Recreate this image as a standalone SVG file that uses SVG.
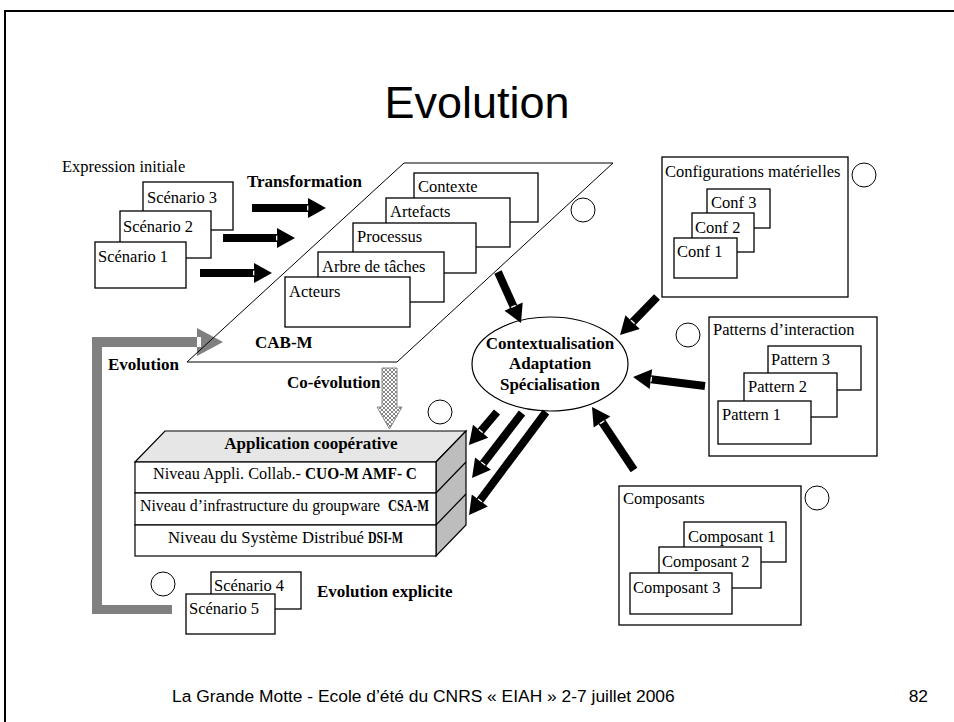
<svg xmlns="http://www.w3.org/2000/svg" width="954" height="722" viewBox="0 0 954 722">
<defs>
<style>
.t{font-family:"Liberation Serif","Times New Roman",serif;font-size:16.5px;fill:#000}
.b{font-family:"Liberation Serif","Times New Roman",serif;font-size:17px;font-weight:bold;fill:#000}
.s{font-family:"Liberation Sans",Arial,sans-serif;fill:#000}
.box{fill:#fff;stroke:#000;stroke-width:1.3}
.frame{fill:none;stroke:#000;stroke-width:1.3}
.c{fill:#fff;stroke:#000;stroke-width:1}
.arr{stroke:#000;stroke-width:8;fill:none;marker-end:url(#head)}
</style>
<marker id="head" markerUnits="strokeWidth" markerWidth="3" markerHeight="3" refX="0" refY="0" orient="auto" overflow="visible">
<path d="M0,-1.25 L2.25,0 L0,1.25 z" fill="#000"/>
<rect x="-0.12" y="-0.3" width="0.16" height="0.6" fill="#fff"/>
</marker>
<pattern id="hatch" width="4" height="4" patternUnits="userSpaceOnUse">
<rect width="4" height="4" fill="#fff"/>
<path d="M0,0 L4,4 M4,0 L0,4" stroke="#777" stroke-width="0.9"/>
</pattern>
</defs>
<rect x="0" y="0" width="954" height="722" fill="#fff"/>
<rect x="5" y="11" width="1000" height="800" fill="none" stroke="#000" stroke-width="2"/>
<text class="s" x="477" y="118" font-size="45" text-anchor="middle">Evolution</text>
<text class="s" x="172" y="702" font-size="17.4">La Grande Motte - Ecole d’été du CNRS « EIAH » 2-7 juillet 2006</text>
<text class="s" x="928" y="702" font-size="17.4" text-anchor="end">82</text>

<g id="expression">
<text class="t" x="62" y="172">Expression initiale</text>
<rect class="box" x="143" y="182" width="90" height="48"/>
<text class="t" x="147" y="203">Scénario 3</text>
<rect class="box" x="120" y="211" width="91" height="47"/>
<text class="t" x="123" y="232">Scénario 2</text>
<rect class="box" x="95" y="242" width="91" height="46"/>
<text class="t" x="98" y="262">Scénario 1</text>
</g>

<text class="b" x="247" y="187">Transformation</text>
<text class="b" x="108" y="370">Evolution</text>
<text class="b" x="287" y="388">Co-évolution</text>
<text class="b" x="317" y="597">Evolution explicite</text>

<g id="evolution-arrow">
<polygon points="172,614 92,614 92,337 197,337 197,328 223,342 197,356 197,347 102,347 102,605 172,605" fill="#808080"/>
<rect x="197" y="337" width="4" height="10" fill="#fff"/>
</g>

<g id="cab-m">
<polygon points="404,163 613,163 397,362 187,362" fill="none" stroke="#000" stroke-width="1"/>
<rect class="box" x="414" y="173" width="124" height="49"/>
<text class="t" x="418" y="192">Contexte</text>
<rect class="box" x="386" y="198" width="124" height="49"/>
<text class="t" x="390" y="217">Artefacts</text>
<rect class="box" x="353" y="223" width="123" height="50"/>
<text class="t" x="357" y="242">Processus</text>
<rect class="box" x="318" y="252" width="126" height="50"/>
<text class="t" x="322" y="272">Arbre de tâches</text>
<rect class="box" x="285" y="277" width="125" height="50"/>
<text class="t" x="289" y="297">Acteurs</text>
<text class="b" x="255" y="348" font-size="19.5">CAB-M</text>
<circle class="c" cx="583" cy="210" r="12"/>
</g>

<g id="contextualisation">
<ellipse cx="550" cy="364" rx="78" ry="47" fill="#fff" stroke="#000" stroke-width="1.2"/>
<text class="b" x="550" y="349" text-anchor="middle">Contextualisation</text>
<text class="b" x="550" y="369" text-anchor="middle">Adaptation</text>
<text class="b" x="550" y="390" text-anchor="middle">Spécialisation</text>
</g>

<g id="configurations">
<rect class="frame" x="662" y="157" width="186" height="140"/>
<text class="t" x="665" y="177">Configurations matérielles</text>
<circle class="c" cx="864" cy="175" r="12"/>
<rect class="box" x="707" y="189" width="63" height="39"/>
<text class="t" x="711" y="208">Conf 3</text>
<rect class="box" x="692" y="213" width="62" height="39"/>
<text class="t" x="695" y="233">Conf 2</text>
<rect class="box" x="674" y="238" width="63" height="40"/>
<text class="t" x="677" y="257">Conf 1</text>
</g>

<g id="patterns">
<rect class="frame" x="709" y="317" width="168" height="139"/>
<text class="t" x="713" y="335">Patterns d’interaction</text>
<circle class="c" cx="688" cy="335" r="12"/>
<rect class="box" x="768" y="346" width="93" height="44"/>
<text class="t" x="771" y="365">Pattern 3</text>
<rect class="box" x="744" y="373" width="93" height="44"/>
<text class="t" x="748" y="392">Pattern 2</text>
<rect class="box" x="718" y="401" width="93" height="43"/>
<text class="t" x="722" y="420">Pattern 1</text>
</g>

<g id="composants">
<rect class="frame" x="619" y="486" width="182" height="139"/>
<text class="t" x="623" y="504">Composants</text>
<circle class="c" cx="817" cy="498" r="12"/>
<rect class="box" x="684" y="522" width="102" height="40"/>
<text class="t" x="688" y="542">Composant 1</text>
<rect class="box" x="659" y="547" width="102" height="41"/>
<text class="t" x="662" y="567">Composant 2</text>
<rect class="box" x="630" y="573" width="102" height="41"/>
<text class="t" x="633" y="593">Composant 3</text>
</g>

<g id="application">
<polygon points="135,462 165,431 466,431 436,462" fill="#e6e6e6" stroke="#000" stroke-width="1.2"/>
<polygon points="436,462 466,431 466,525 436,556" fill="#bdbdbd" stroke="#000" stroke-width="1.2"/>
<line x1="436" y1="493" x2="466" y2="462" stroke="#000" stroke-width="1.2"/>
<line x1="436" y1="525" x2="466" y2="494" stroke="#000" stroke-width="1.2"/>
<rect x="135" y="462" width="301" height="31" fill="#fff" stroke="#000" stroke-width="1.2"/>
<rect x="135" y="493" width="301" height="32" fill="#fff" stroke="#000" stroke-width="1.2"/>
<rect x="135" y="525" width="301" height="31" fill="#fff" stroke="#000" stroke-width="1.2"/>
<text class="b" x="311" y="449" text-anchor="middle">Application coopérative</text>
<text class="t" x="153" y="479" textLength="148" lengthAdjust="spacingAndGlyphs">Niveau Appli. Collab.-</text>
<text class="b" x="305" y="479" textLength="112" lengthAdjust="spacingAndGlyphs">CUO-M AMF- C</text>
<text class="t" x="140" y="511" textLength="240" lengthAdjust="spacingAndGlyphs">Niveau d’infrastructure du groupware</text>
<text class="b" x="388" y="511" textLength="41" lengthAdjust="spacingAndGlyphs">CSA-M</text>
<text class="t" x="168" y="543" textLength="196" lengthAdjust="spacingAndGlyphs">Niveau du Système Distribué</text>
<text class="b" x="368" y="543" textLength="35" lengthAdjust="spacingAndGlyphs">DSI-M</text>
<circle class="c" cx="440" cy="412" r="12"/>
</g>

<g id="explicite">
<circle class="c" cx="163" cy="584" r="12"/>
<rect class="box" x="211" y="572" width="90" height="37"/>
<text class="t" x="214" y="591">Scénario 4</text>
<rect class="box" x="186" y="594" width="89" height="40"/>
<text class="t" x="189" y="614">Scénario 5</text>
</g>

<g id="connectors">
<line class="arr" x1="252" y1="208" x2="308" y2="208"/>
<line class="arr" x1="223" y1="238" x2="277" y2="238"/>
<line class="arr" x1="200" y1="273" x2="254" y2="273"/>
<line class="arr" x1="498" y1="272" x2="513.6" y2="306.6"/>
<line class="arr" x1="657" y1="297" x2="632.6" y2="322.1"/>
<line class="arr" x1="705" y1="386" x2="650.9" y2="379.2"/>
<line class="arr" x1="634" y1="470" x2="602" y2="422"/>
<line class="arr" x1="497" y1="412" x2="480.6" y2="431.3"/>
<line class="arr" x1="522" y1="413" x2="483" y2="463.7"/>
<line class="arr" x1="546" y1="412" x2="479.8" y2="500.6"/>
<polygon points="382,368 397,368 397,407 402,407 389.5,429 377,407 382,407" fill="url(#hatch)" stroke="#888" stroke-width="1"/>
</g>
</svg>
